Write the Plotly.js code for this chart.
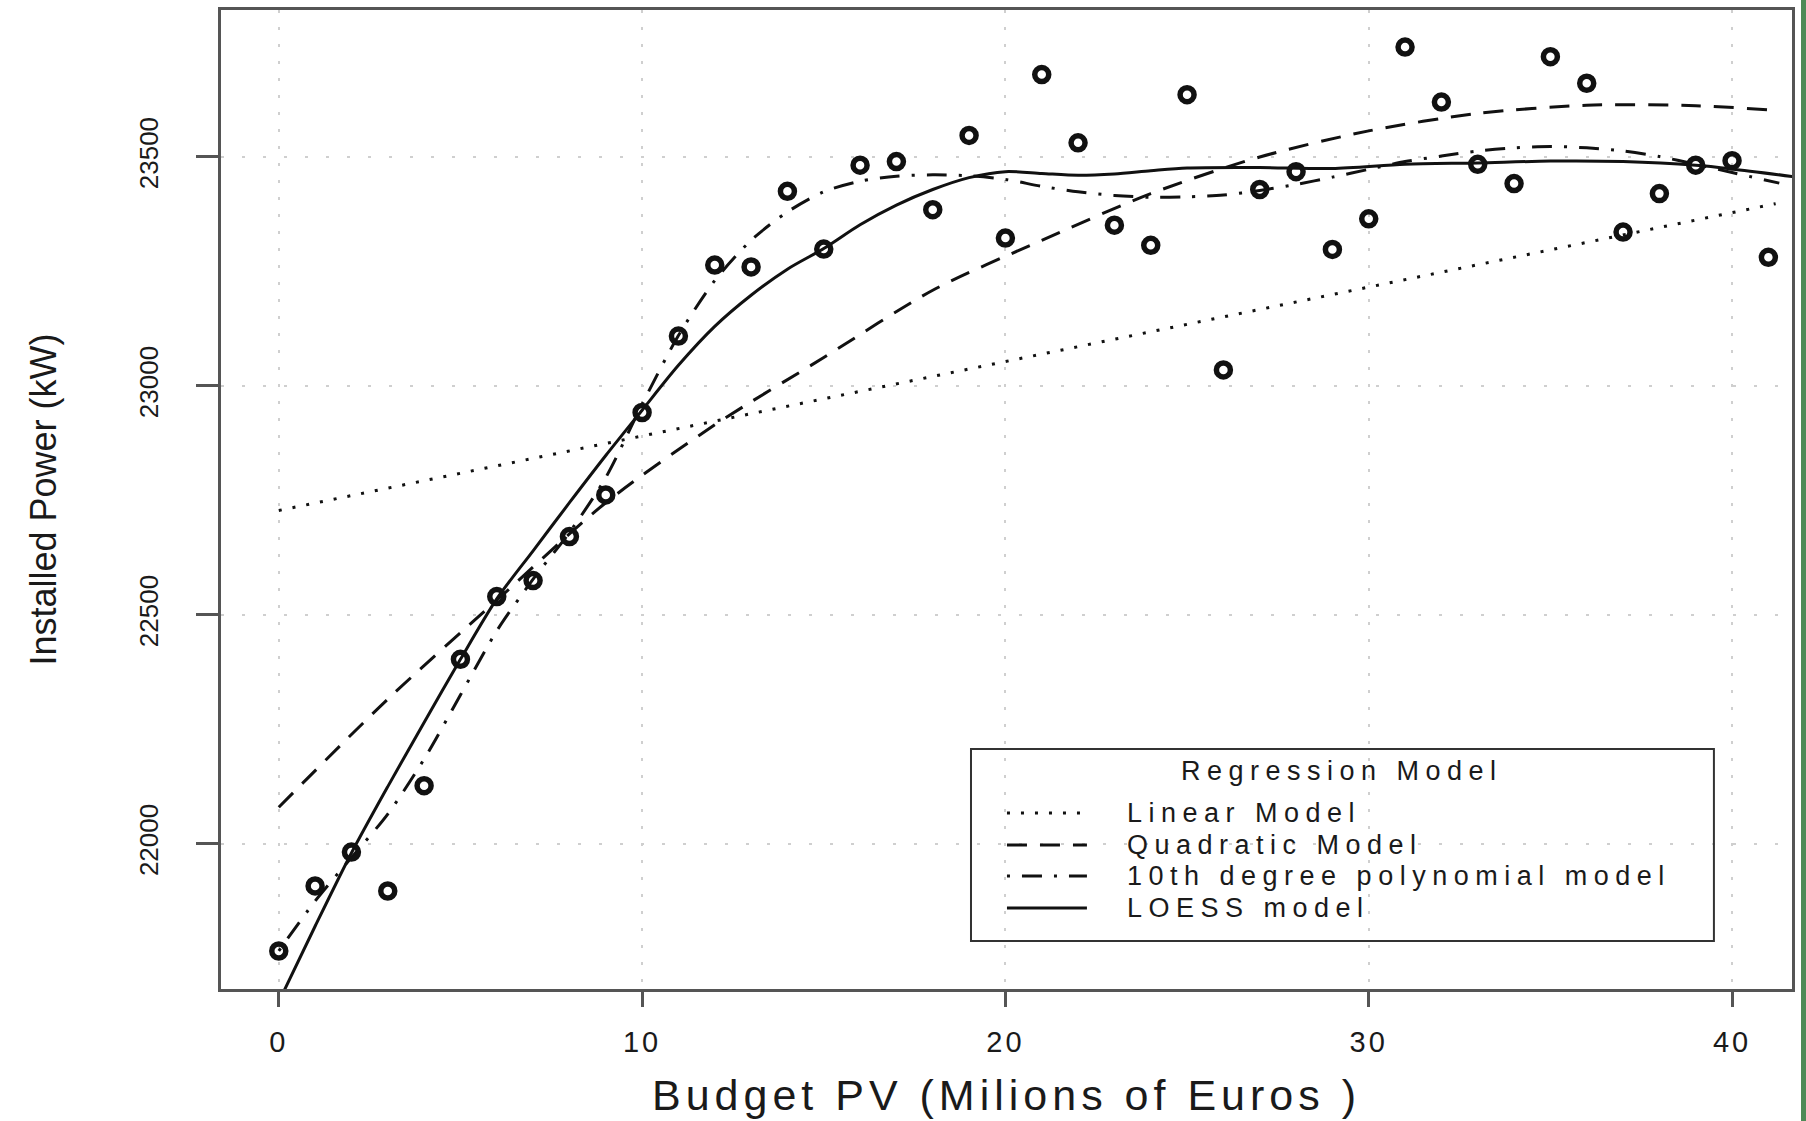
<!DOCTYPE html>
<html>
<head>
<meta charset="utf-8">
<script src="https://cdn.plot.ly/plotly-3.0.1.min.js"></script>
<style>
  html, body { margin: 0; padding: 0; background: #4e8a56; }
  #chart { width: 1801px; height: 1121px; background: #ffffff; }
  .annotation-text { letter-spacing: 6.5px; }
  .xtick text { letter-spacing: 3px; }
  .xtitle { letter-spacing: 5px; }
</style>
</head>
<body>
<div id="chart"></div>
<script>
// ---- observed data (Budget PV in millions of euros, installed power in kW) ----
var budget = [0, 1, 2, 3, 4, 5, 6, 7, 8, 9, 10, 11, 12, 13, 14, 15, 16, 17, 18, 19, 20,
              21, 22, 23, 24, 25, 26, 27, 28, 29, 30, 31, 32, 33, 34, 35, 36, 37, 38, 39, 40, 41];
var power = [21766, 21908, 21982, 21897, 22127, 22403, 22540, 22575, 22671, 22762, 22942,
             23109, 23264, 23260, 23425, 23299, 23482, 23490, 23385, 23547, 23323,
             23680, 23531, 23351, 23307, 23636, 23035, 23429, 23468, 23298, 23365,
             23740, 23620, 23484, 23442, 23719, 23661, 23336, 23420, 23482, 23492, 23281];

// ---- fitted curves ----
var linearX = [0, 41.2];
var linearY = [22728, 23398];

var quadX = [0, 3, 6, 9, 12, 15, 18, 21, 24, 27, 30, 33, 36, 39, 41];
var quadY = [22080, 22316, 22532, 22745, 22915, 23062, 23209, 23318, 23420, 23500,
             23557, 23595, 23613, 23612, 23603];

var polyX = [0, 1, 2, 3, 4, 5, 6, 7, 8, 9, 10, 11, 12, 13, 14, 15, 16, 17, 18, 19, 20,
             21, 22, 23, 24, 25, 26, 27, 28, 29, 30, 31, 32, 33, 34, 35, 36, 37, 38, 39, 40, 41.3];
var polyY = [21766, 21875, 21970, 22065, 22185, 22325, 22465, 22578, 22680, 22800, 22960,
             23110, 23230, 23318, 23380, 23424, 23447, 23458, 23461, 23459, 23451,
             23436, 23424, 23416, 23412, 23413, 23417, 23427, 23440, 23456, 23473,
             23490, 23502, 23513, 23520, 23523, 23520, 23513, 23501, 23484, 23466, 23443];

var loessX = [0, 1, 2, 3, 4, 5, 6, 7, 8, 9, 10, 11, 12, 13, 14, 15, 16, 17, 18, 19, 20,
              21, 22, 23, 24, 25, 27, 29, 31, 33, 35, 37, 39, 40, 41.7];
var loessY = [21655, 21820, 21980, 22125, 22265, 22403, 22535, 22640, 22745, 22848, 22947,
              23045, 23130, 23198, 23255, 23300, 23352, 23395, 23429, 23455, 23468,
              23464, 23460, 23463, 23470, 23476, 23477, 23475, 23484, 23487, 23491,
              23490, 23482, 23474, 23457];

// ---- text ----
var xTickVals = [0, 10, 20, 30, 40];
var xTickText = ['0', '10', '20', '30', '40'];
var yTickVals = [22000, 22500, 23000, 23500];
var yTickText = ['22000', '22500', '23000', '23500'];
var legendTitle = 'Regression Model';
var modelNames = ['Linear Model', 'Quadratic Model', '10th degree polynomial model', 'LOESS model'];

// ---- styles ----
var INK = '#111111';
var dotDash = '3px,11px';
var dashDash = '20px,13px';
var dashDot = '3px,12px,20px,12px';
var modelDashes = [dotDash, dashDash, dashDot, 'solid'];
var FONT = 'Liberation Sans, Arial, Helvetica, sans-serif';

function curve(x, y, dash, name) {
  return {
    type: 'scatter', mode: 'lines', x: x, y: y, name: name,
    line: { color: INK, width: 3, dash: dash, shape: 'spline', smoothing: 0.8 },
    showlegend: false, hoverinfo: 'skip'
  };
}

var traces = [
  curve(linearX, linearY, dotDash, modelNames[0]),
  curve(quadX, quadY, dashDash, modelNames[1]),
  curve(polyX, polyY, dashDot, modelNames[2]),
  curve(loessX, loessY, 'solid', modelNames[3]),
  {
    type: 'scatter', mode: 'markers', x: budget, y: power, name: 'Observed',
    marker: { symbol: 'circle-open', size: 14, color: INK, line: { width: 5.5, color: INK } },
    showlegend: false, cliponaxis: false
  }
];

// ---- hand-made legend (box, line samples, labels) ----
var legBox = { x0: 0.4774, x1: 0.9503, y0: 0.0490, y1: 0.2451 };
var rowY = [0.1798, 0.1471, 0.1154, 0.0827];
var sampleX0 = 0.5003, sampleX1 = 0.5512, labelX = 0.5754;
var LEGEND_FONT = 27;

var shapes = [{
  type: 'rect', xref: 'paper', yref: 'paper',
  x0: legBox.x0, x1: legBox.x1, y0: legBox.y0, y1: legBox.y1,
  line: { color: '#333333', width: 2 }, fillcolor: 'rgba(255,255,255,0)'
}];
var annotations = [{
  xref: 'paper', yref: 'paper', x: 0.7136, y: 0.2227, xanchor: 'center', yanchor: 'middle',
  text: legendTitle, showarrow: false, font: { family: FONT, size: LEGEND_FONT, color: '#1a1a1a' }
}];
for (var i = 0; i < modelNames.length; i++) {
  shapes.push({
    type: 'line', xref: 'paper', yref: 'paper',
    x0: sampleX0, x1: sampleX1, y0: rowY[i], y1: rowY[i],
    line: { color: INK, width: 3, dash: modelDashes[i] }
  });
  annotations.push({
    xref: 'paper', yref: 'paper', x: labelX, y: rowY[i], xanchor: 'left', yanchor: 'middle',
    text: modelNames[i], showarrow: false, font: { family: FONT, size: LEGEND_FONT, color: '#1a1a1a' }
  });
}

var layout = {
  width: 1801, height: 1121,
  margin: { l: 221, r: 9, t: 10, b: 132, pad: 0 },
  paper_bgcolor: '#ffffff', plot_bgcolor: '#ffffff',
  showlegend: false,
  xaxis: {
    range: [-1.59, 41.65], tickmode: 'array', tickvals: xTickVals, ticktext: xTickText,
    ticks: 'outside', ticklen: 15, tickwidth: 3, tickcolor: '#555555',
    showline: true, mirror: true, linecolor: '#555555', linewidth: 3,
    showgrid: true, gridcolor: '#cfcfcf', gridwidth: 2, griddash: '3px,14px',
    zeroline: false, ticklabelstandoff: 10,
    tickfont: { family: FONT, size: 29, color: '#1a1a1a' },
    title: { text: 'Budget PV (Milions of Euros )', font: { family: FONT, size: 43, color: '#1a1a1a' }, standoff: 24 },
    automargin: false
  },
  yaxis: {
    range: [21683, 23821], tickmode: 'array', tickvals: yTickVals, ticktext: yTickText,
    ticks: 'outside', ticklen: 22, tickwidth: 3, tickcolor: '#555555', tickangle: -90,
    showline: true, mirror: true, linecolor: '#555555', linewidth: 3,
    showgrid: true, gridcolor: '#cfcfcf', gridwidth: 2, griddash: '3px,18px',
    zeroline: false, ticklabelstandoff: 28,
    tickfont: { family: FONT, size: 26, color: '#1a1a1a' },
    title: { text: 'Installed Power (kW)', font: { family: FONT, size: 36, color: '#1a1a1a' }, standoff: 66 },
    automargin: false
  },
  shapes: shapes,
  annotations: annotations
};

Plotly.newPlot('chart', traces, layout, { staticPlot: true, displayModeBar: false });
</script>
</body>
</html>
